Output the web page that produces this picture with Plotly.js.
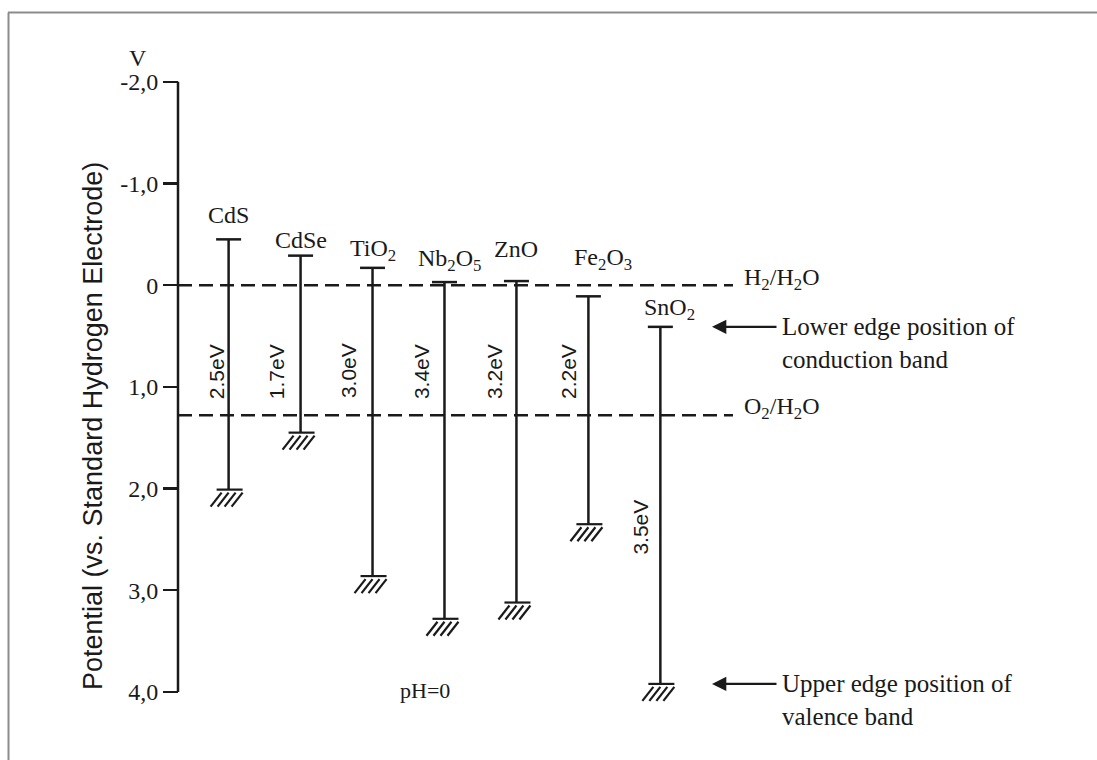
<!DOCTYPE html>
<html>
<head>
<meta charset="utf-8">
<script src="https://cdn.plot.ly/plotly-3.0.1.min.js"></script>
<style>html,body{margin:0;padding:0;background:#fff;}#chart{width:1097px;height:760px;}</style>
</head>
<body>
<div id="chart"></div>
<script>
// ---- data ----
const materials = ['CdS', 'CdSe', 'TiO<sub>2</sub>', 'Nb<sub>2</sub>O<sub>5</sub>', 'ZnO', 'Fe<sub>2</sub>O<sub>3</sub>', 'SnO<sub>2</sub>'];
const conductionEdge = [-0.45, -0.29, -0.17, -0.03, -0.04, 0.11, 0.41];   // V vs SHE
const valenceEdge    = [2.01, 1.45, 2.86, 3.28, 3.12, 2.35, 3.92];        // V vs SHE
const bandGap        = [2.5, 1.7, 3.0, 3.4, 3.2, 2.2, 3.5];               // eV
const redoxLevels    = [0, 1.28];
const redoxLabels    = ['H<sub>2</sub>/H<sub>2</sub>O', 'O<sub>2</sub>/H<sub>2</sub>O'];
const yTickVals      = [-2, -1, 0, 1, 2, 3, 4];
const yTickText      = ['-2,0', '-1,0', '0', '1,0', '2,0', '3,0', '4,0'];

// ---- styling / placement ----
const W = 1097, H = 760;
const xRange = [-3.177, 12.068];
const yRange = [4.668, -2.803];
const pxX = W / (xRange[1] - xRange[0]);
const pxY = H / (yRange[0] - yRange[1]);
const axisPos = 178 / W;
const SERIF = 'Liberation Serif, Times New Roman, serif';
const SANS = 'Liberation Sans, Arial, sans-serif';
const INK = '#1a1a1a';
const nameShiftX = [0, 0, 0, 5, 0, 15, 9];
const nameShiftY = [24, 16, 18, 22, 32, 37, 18];
const gapShiftX = [-12, -24, -24, -23, -22, -20, -20];
const gapLabelY = [0.85, 0.85, 0.84, 0.85, 0.85, 0.85, 2.38];

const xs = materials.map((_, i) => i);

// vertical band lines
const bx = [], by = [];
xs.forEach((x, i) => { bx.push(x, x, null); by.push(conductionEdge[i], valenceEdge[i], null); });
// top caps
const cx = [], cy = [];
xs.forEach((x, i) => { cx.push(x - 12.5 / pxX, x + 12.5 / pxX, null); cy.push(conductionEdge[i], conductionEdge[i], null); });
// bottom caps + hatch
const hx = [], hy = [];
xs.forEach((x, i) => {
  const v = valenceEdge[i];
  hx.push(x - 12 / pxX, x + 14 / pxX, null); hy.push(v, v, null);
  for (let k = 0; k < 4; k++) {
    hx.push(x + (-18 + 7 * k) / pxX, x + (-7 + 7 * k) / pxX, null);
    hy.push(v + 17 / pxY, v + 3 / pxY, null);
  }
});

const lineStyle = { color: INK, width: 2.5 };
const traces = [
  { x: bx, y: by, mode: 'lines', line: lineStyle, hoverinfo: 'skip', type: 'scatter' },
  { x: cx, y: cy, mode: 'lines', line: lineStyle, hoverinfo: 'skip', type: 'scatter' },
  { x: hx, y: hy, mode: 'lines', line: { color: INK, width: 2.2 }, hoverinfo: 'skip', type: 'scatter' }
];

const annotations = [];
materials.forEach((m, i) => {
  annotations.push({ x: i, y: conductionEdge[i], xref: 'x', yref: 'y', text: m, showarrow: false,
    xanchor: 'center', yanchor: 'middle', xshift: nameShiftX[i], yshift: nameShiftY[i],
    font: { family: SERIF, size: 24, color: INK } });
  annotations.push({ x: i, y: gapLabelY[i], xref: 'x', yref: 'y', text: bandGap[i].toFixed(1) + 'eV', showarrow: false,
    textangle: -90, xanchor: 'center', yanchor: 'middle', xshift: gapShiftX[i],
    font: { family: SANS, size: 21, color: INK } });
});
redoxLabels.forEach((t, j) => {
  annotations.push({ x: 742 / W, y: redoxLevels[j], xref: 'paper', yref: 'y', text: t, showarrow: false,
    xanchor: 'left', yanchor: 'middle', yshift: j === 0 ? 6 : 7, font: { family: SERIF, size: 24, color: INK } });
});
// arrows with explanations
const arrowY = [conductionEdge[6], valenceEdge[6]];
const arrowText = ['Lower edge position of<br>conduction band', 'Upper edge position of<br>valence band'];
arrowY.forEach((yv, j) => {
  annotations.push({ x: 712 / W, y: yv, xref: 'paper', yref: 'y', text: '', showarrow: true,
    ax: 66, ay: 0, arrowhead: 2, arrowsize: 1.3, arrowwidth: 2.2, arrowcolor: INK, standoff: 0 });
  annotations.push({ x: 780 / W, y: yv, xref: 'paper', yref: 'y', text: arrowText[j], showarrow: false,
    xanchor: 'left', yanchor: 'middle', align: 'left', yshift: -16,
    font: { family: SERIF, size: 25, color: INK } });
});
annotations.push({ x: 137.5 / W, y: 1 - 58 / H, xref: 'paper', yref: 'paper', text: 'V', showarrow: false,
  xanchor: 'center', yanchor: 'middle', font: { family: SERIF, size: 24, color: INK } });
annotations.push({ x: 425 / W, y: 1 - 690 / H, xref: 'paper', yref: 'paper', text: 'pH=0', showarrow: false,
  xanchor: 'center', yanchor: 'middle', font: { family: SERIF, size: 22, color: INK } });
annotations.push({ x: 93 / W, y: 1 - 426 / H, xref: 'paper', yref: 'paper',
  text: 'Potential (vs. Standard Hydrogen Electrode)', showarrow: false, textangle: -90,
  xanchor: 'center', yanchor: 'middle', font: { family: SANS, size: 27, color: INK } });

const shapes = [
  // y axis line (only between -2 and 4)
  { type: 'line', xref: 'paper', yref: 'y', x0: axisPos, x1: axisPos, y0: -2, y1: 4, line: { color: INK, width: 2.5 } },
  // frame of the picture
  { type: 'line', xref: 'paper', yref: 'paper', x0: 8 / W, x1: 1, y0: 1 - 12.5 / H, y1: 1 - 12.5 / H, line: { color: '#8c8c8c', width: 2 } },
  { type: 'line', xref: 'paper', yref: 'paper', x0: 8.5 / W, x1: 8.5 / W, y0: 0, y1: 1 - 12.5 / H, line: { color: '#8c8c8c', width: 2 } }
];
const redoxEnds = [733 / W, 733 / W];
redoxLevels.forEach((lv, j) => {
  shapes.push({ type: 'line', xref: 'paper', yref: 'y', x0: axisPos, x1: redoxEnds[j], y0: lv, y1: lv,
    line: { color: INK, width: 2.5, dash: '14px,7px' } });
});

const layout = {
  width: W, height: H,
  margin: { l: 0, r: 0, t: 0, b: 0 },
  paper_bgcolor: '#ffffff', plot_bgcolor: '#ffffff',
  showlegend: false,
  xaxis: { range: xRange, visible: false, fixedrange: true },
  yaxis: {
    range: yRange, anchor: 'free', position: axisPos, side: 'left',
    showgrid: false, zeroline: false, showline: false,
    ticks: 'outside', ticklen: 15, tickwidth: 2.2, tickcolor: INK,
    tickvals: yTickVals, ticktext: yTickText,
    tickfont: { family: SERIF, size: 24, color: INK }, fixedrange: true
  },
  annotations: annotations,
  shapes: shapes
};

Plotly.newPlot('chart', traces, layout, { displayModeBar: false, staticPlot: true });
</script>
</body>
</html>
